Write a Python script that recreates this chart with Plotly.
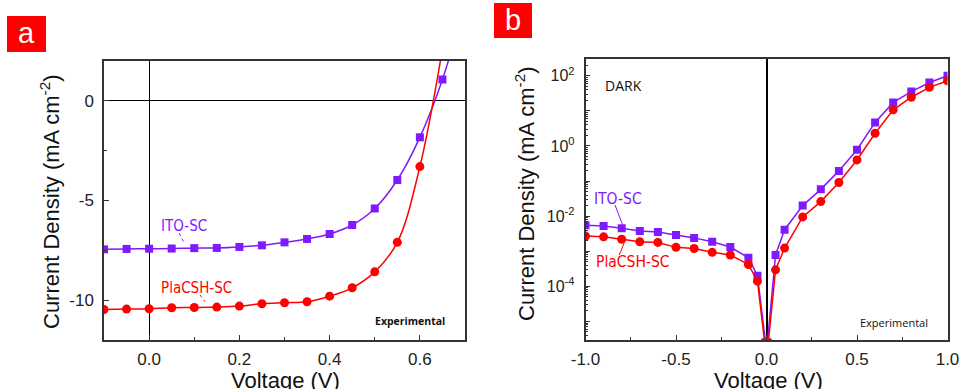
import plotly.graph_objects as go

# ---------------- data ----------------
# Panel a: J-V under illumination (mA cm^-2)
volt_a = [-0.1, -0.05, 0.0, 0.05, 0.1, 0.15, 0.2, 0.25, 0.3, 0.35, 0.4, 0.45, 0.5, 0.55, 0.6, 0.65, 0.7]
ito_a = [-7.45, -7.43, -7.42, -7.41, -7.39, -7.38, -7.33, -7.25, -7.1, -6.93, -6.68, -6.23, -5.4, -3.97, -1.83, 1.07, 5.0]
volt_a_pla = [-0.1, -0.05, 0.0, 0.05, 0.1, 0.15, 0.2, 0.25, 0.3, 0.35, 0.4, 0.45, 0.5, 0.55, 0.6, 0.65]
pla_a = [-10.47, -10.45, -10.43, -10.38, -10.37, -10.35, -10.3, -10.18, -10.13, -10.08, -9.8, -9.38, -8.58, -7.1, -3.3, 2.6]

# Panel b: dark J-V (log scale, mA cm^-2)
volt_b_ito = [-1.0, -0.9, -0.8, -0.7, -0.6, -0.5, -0.4, -0.3, -0.2, -0.1, -0.05, -0.005,
              0.005, 0.05, 0.1, 0.2, 0.3, 0.4, 0.5, 0.6, 0.7, 0.8, 0.9, 1.0]
ito_b = [5.5e-3, 5.2e-3, 4.5e-3, 3.8e-3, 3.55e-3, 2.9e-3, 2.4e-3, 1.86e-3, 1.32e-3, 6.5e-4, 2.0e-4, 2.5e-6,
         2.5e-6, 7.8e-4, 4.1e-3, 2.0e-2, 5.8e-2, 0.195, 0.78, 4.7, 17.4, 35.5, 64.5, 100.0]
volt_b_pla = [-1.0, -0.9, -0.8, -0.7, -0.6, -0.5, -0.4, -0.3, -0.2, -0.1, -0.05, -0.01,
              0.01, 0.05, 0.1, 0.2, 0.3, 0.4, 0.5, 0.6, 0.7, 0.8, 0.9, 1.0]
pla_b = [2.7e-3, 2.57e-3, 2.2e-3, 1.86e-3, 1.78e-3, 1.29e-3, 1.2e-3, 9.3e-4, 7.8e-4, 4.2e-4, 1.4e-4, 2.5e-6,
         2.5e-6, 2.95e-4, 1.23e-3, 9.5e-3, 2.6e-2, 9.1e-2, 0.40, 2.3, 10.7, 24.5, 46.8, 72.4]

# tick labels
xa_ticks = [0.0, 0.2, 0.4, 0.6]
xa_text = ["0.0", "0.2", "0.4", "0.6"]
ya_ticks = [-10, -5, 0]
ya_text = ["-10", "-5", "0"]
xb_ticks = [-1.0, -0.5, 0.0, 0.5, 1.0]
xb_text = ["-1.0", "-0.5", "0.0", "0.5", "1.0"]
yb_exps = [-5, -4, -3, -2, -1, 0, 1, 2]
yb_text = ["", "10<sup>-4</sup>", "", "10<sup>-2</sup>", "", "10<sup>0</sup>", "", "10<sup>2</sup>"]

PURPLE = "#7F1AFF"
RED = "#FF0000"
W, H = 960, 389


def px(x):
    return x / W


def py(y):
    return 1 - y / H


fig = go.Figure()

fig.add_trace(go.Scatter(x=volt_a, y=ito_a, mode="lines+markers", line=dict(color=PURPLE, width=1.5, shape="spline"),
                         marker=dict(symbol="square", size=8, color=PURPLE), xaxis="x", yaxis="y", showlegend=False))
fig.add_trace(go.Scatter(x=volt_a_pla, y=pla_a, mode="lines+markers", line=dict(color=RED, width=1.5, shape="spline"),
                         marker=dict(symbol="circle", size=9, color=RED), xaxis="x", yaxis="y", showlegend=False))
fig.add_trace(go.Scatter(x=volt_b_ito, y=ito_b, mode="lines+markers", line=dict(color=PURPLE, width=1.5),
                         marker=dict(symbol="square", size=8, color=PURPLE), xaxis="x2", yaxis="y2", showlegend=False))
fig.add_trace(go.Scatter(x=volt_b_pla, y=pla_b, mode="lines+markers", line=dict(color=RED, width=1.5),
                         marker=dict(symbol="circle", size=9, color=RED), xaxis="x2", yaxis="y2", showlegend=False))

TICKFONT = dict(family="Liberation Sans, Arial, sans-serif", size=17, color="#222")
axis_common = dict(showline=True, mirror=True, linecolor="#333", linewidth=1.5, showgrid=False, automargin=False,
                   ticks="inside", ticklen=5, tickwidth=1.2, tickcolor="#333", tickfont=TICKFONT)

minor_vals = [k * 10 ** e for e in range(-6, 3) for k in range(2, 10)]

fig.update_layout(
    width=W, height=H, margin=dict(l=0, r=0, t=0, b=0, pad=0, autoexpand=False),
    paper_bgcolor="white", plot_bgcolor="white",
    xaxis=dict(domain=[px(104), px(465)], anchor="y", range=[-0.1, 0.7], tickmode="array",
               tickvals=xa_ticks, ticktext=xa_text, zeroline=True, zerolinecolor="black", zerolinewidth=1.2,
               minor=dict(tickmode="array", tickvals=[0.1, 0.3, 0.5], ticks="inside", ticklen=3, tickcolor="#333"),
               ticklabelstandoff=3, **axis_common),
    yaxis=dict(domain=[py(340), py(61)], anchor="x", range=[-12, 2], tickmode="array",
               tickvals=ya_ticks, ticktext=ya_text, zeroline=True, zerolinecolor="black", zerolinewidth=1.2,
               minor=dict(tickmode="array", tickvals=[-7.5, -2.5], ticks="inside", ticklen=3, tickcolor="#333"),
               ticklabelstandoff=5, **axis_common),
    xaxis2=dict(domain=[px(585.5), px(947.5)], anchor="y2", range=[-1.0, 1.0], tickmode="array",
                tickvals=xb_ticks, ticktext=xb_text, zeroline=True, zerolinecolor="black", zerolinewidth=1.5,
                minor=dict(tickmode="array", tickvals=[-0.75, -0.25, 0.25, 0.75], ticks="inside", ticklen=3,
                           tickcolor="#333"),
                ticklabelstandoff=3, **axis_common),
    yaxis2=dict(domain=[py(340), py(59.3)], anchor="x2", type="log", range=[-5.53, 2.47], tickmode="array",
                tickvals=[10 ** e for e in yb_exps], ticktext=yb_text, zeroline=False,
                minor=dict(tickmode="array", tickvals=minor_vals, ticks="inside", ticklen=3, tickcolor="#333"),
                ticklabelstandoff=6, **{**axis_common, "tickfont": dict(family="Liberation Sans, Arial, sans-serif", size=16, color="#222")}),
)

TITLEFONT = dict(family="Liberation Sans, Arial, sans-serif", size=22, color="#111")
LBLFONT = "Liberation Sans Narrow, DejaVu Sans Condensed, Open Sans, sans-serif"

annotations = [
    # axis titles
    dict(x=px(50), y=py(202), text="Current Density (mA cm<sup>-2</sup>)", textangle=-90, font=TITLEFONT),
    dict(x=px(285), y=py(380), text="Voltage (V)", font=TITLEFONT),
    dict(x=px(525), y=py(194), text="Current Density (mA cm<sup>-2</sup>)", textangle=-90, font=TITLEFONT),
    dict(x=px(768), y=py(380), text="Voltage (V)", font=TITLEFONT),
    # panel letters
    dict(x=px(26.5), y=py(33), text="a", font=dict(family="Liberation Sans, Arial", size=29, color="white")),
    dict(x=px(513), y=py(20), text="b", font=dict(family="Liberation Sans, Arial", size=29, color="white")),
    # panel a labels
    dict(x=px(183.5), y=py(225.5), text="ITO-SC", font=dict(family=LBLFONT, size=15, color=PURPLE)),
    dict(x=px(196), y=py(288), text="PlaCSH-SC", font=dict(family=LBLFONT, size=15, color=RED)),
    dict(x=px(410), y=py(321), text="<b>Experimental</b>", font=dict(family="Open Sans, sans-serif", size=10.5, color="#111")),
    # panel b labels
    dict(x=px(623), y=py(86), text="DARK", font=dict(family="Open Sans, sans-serif", size=14, color="#111")),
    dict(x=px(618), y=py(198.5), text="ITO-SC", font=dict(family=LBLFONT, size=15.5, color=PURPLE)),
    dict(x=px(632.5), y=py(262), text="PlaCSH-SC", font=dict(family=LBLFONT, size=15.5, color=RED)),
    dict(x=px(894), y=py(322), text="Experimental", font=dict(family="Open Sans, sans-serif", size=11, color="#111")),
]
for a in annotations:
    a.update(xref="paper", yref="paper", showarrow=False, xanchor="center", yanchor="middle")
fig.update_layout(annotations=annotations)

shapes = [
    dict(type="rect", x0=px(7), x1=px(46), y0=py(52), y1=py(16), fillcolor=RED, line=dict(width=0)),
    dict(type="rect", x0=px(494), x1=px(532), y0=py(38), y1=py(3), fillcolor=RED, line=dict(width=0)),
    dict(type="line", x0=px(179.3), y0=py(233.3), x1=px(184.3), y1=py(243.3), line=dict(color=PURPLE, width=1, dash="dot")),
    dict(type="line", x0=px(200), y0=py(295), x1=px(205), y1=py(301.7), line=dict(color=RED, width=1, dash="dot")),
    dict(type="line", x0=px(615), y0=py(205), x1=px(622.7), y1=py(225), line=dict(color=PURPLE, width=1)),
    dict(type="line", x0=px(619.3), y0=py(255), x1=px(624), y1=py(243.3), line=dict(color=RED, width=1)),
]
for s in shapes:
    s.update(xref="paper", yref="paper")
fig.update_layout(shapes=shapes)

fig.write_html("out.html")
